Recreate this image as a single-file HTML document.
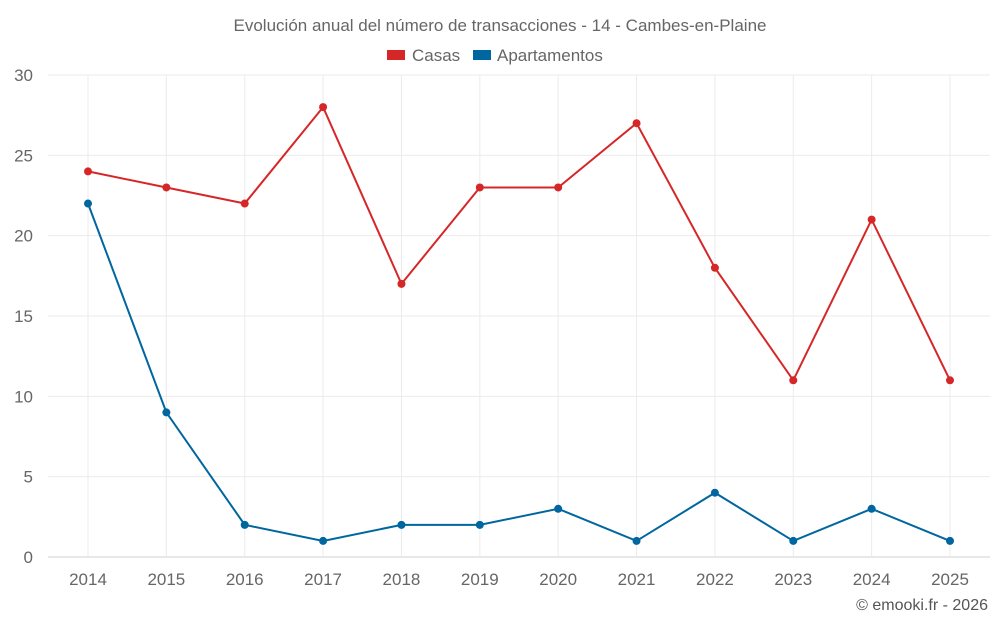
<!DOCTYPE html>
<html><head><meta charset="utf-8"><style>
body{margin:0;background:#fff;font-family:"Liberation Sans",sans-serif}
</style></head><body>
<svg width="1000" height="625" id="c" xmlns="http://www.w3.org/2000/svg" font-family="Liberation Sans, sans-serif">
<text x="500" y="31" text-anchor="middle" font-size="17" fill="#666">Evolución anual del número de transacciones - 14 - Cambes-en-Plaine</text>
<g>
<g><rect x="387" y="50" width="18" height="10" fill="#d62728"/><text x="412" y="61" font-size="17" fill="#666">Casas</text></g>
<g><rect x="473" y="50" width="18" height="10" fill="#0066a0"/><text x="497" y="61" font-size="17" fill="#666">Apartamentos</text></g>
</g>
<g id="grid"></g><g id="axes"></g><g id="series"></g>
<text x="988" y="610" text-anchor="end" font-size="16" fill="#555">© emooki.fr - 2026</text>
</svg>
<script>
const years=[2014,2015,2016,2017,2018,2019,2020,2021,2022,2023,2024,2025];
const casas=[24,23,22,28,17,23,23,27,18,11,21,11];
const apartamentos=[22,9,2,1,2,2,3,1,4,1,3,1];
const yTicks=[0,5,10,15,20,25,30];
const NS="http://www.w3.org/2000/svg";
const X=i=>88+i*(950-88)/11, Y=v=>557-v*(557-75)/30;
function mk(t,a,p){const e=document.createElementNS(NS,t);for(const k in a)e.setAttribute(k,a[k]);document.getElementById(p).appendChild(e);return e;}
yTicks.forEach(v=>{
 const g=mk('line',{x1:48,x2:990,y1:Y(v),y2:Y(v),stroke:v?'#ebebeb':'#d0d0d0','stroke-width':1},'grid');
 
 
 const t=mk('text',{x:33,y:Y(v)+6,'text-anchor':'end','font-size':17,fill:'#666'},'axes');t.textContent=v;
 
 
});
years.forEach((y,i)=>{
 const g=mk('line',{x1:X(i),x2:X(i),y1:75,y2:557,stroke:'#ebebeb','stroke-width':1},'grid');
 
 
 const t=mk('text',{x:X(i),y:585,'text-anchor':'middle','font-size':17,fill:'#666'},'axes');t.textContent=y;
 
 
});
[[casas,'#d62728','casas'],[apartamentos,'#0066a0','apartamentos']].forEach(([d,c,n])=>{
 const p=mk('polyline',{points:d.map((v,i)=>X(i)+','+Y(v)).join(' '),fill:'none',stroke:c,'stroke-width':2},'series');
 
 
 d.forEach((v,i)=>{const e=mk('circle',{cx:X(i),cy:Y(v),r:4,fill:c},'series');
 
 });
});
</script>
</body></html>
